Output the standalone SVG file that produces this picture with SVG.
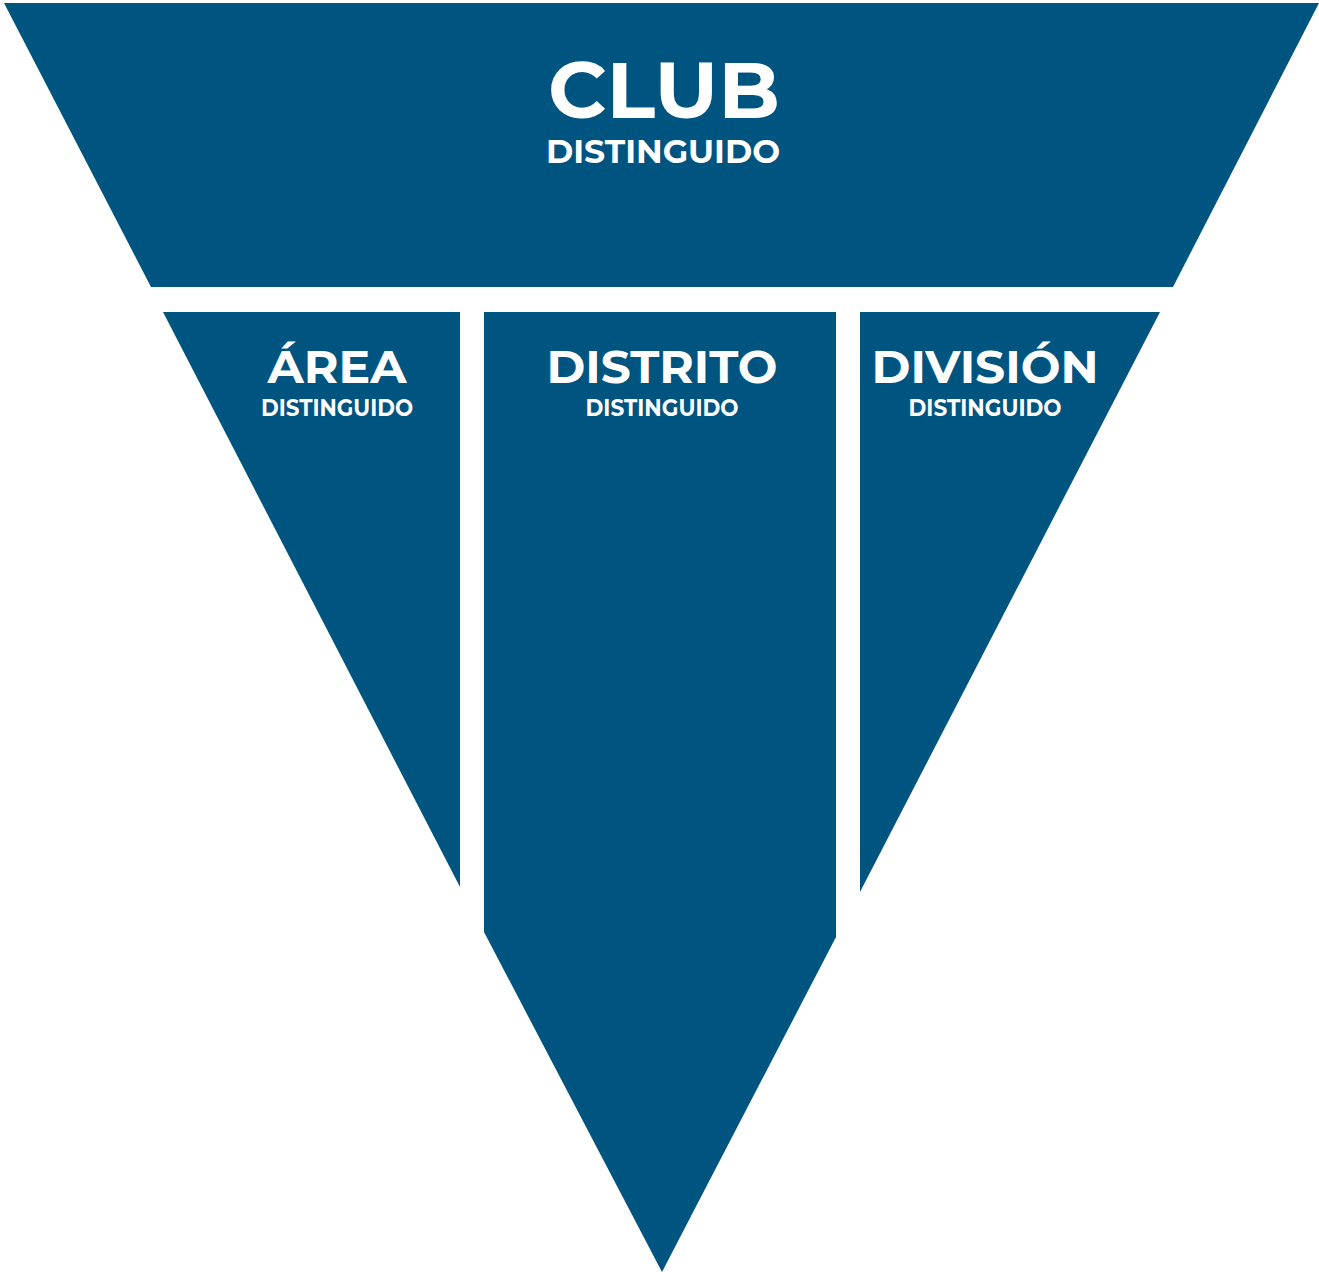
<svg xmlns="http://www.w3.org/2000/svg" width="1319" height="1272" viewBox="0 0 1319 1272">
<style>
.seg{fill:#005480}
.t{font-family:"Montserrat","Liberation Sans",Arial,sans-serif;font-weight:bold;fill:#fff;text-anchor:middle}
.big{font-size:46px}
.sm{font-size:23px}
</style>
<rect width="1319" height="1272" fill="#fff"/>
<g id="club">
<polygon class="seg" points="4,3 1319,3 1173,287 151,287"/>
<text class="t" x="664" y="118" font-size="78" textLength="232" lengthAdjust="spacingAndGlyphs">CLUB</text>
<text class="t" x="663" y="163" font-size="32" textLength="234" lengthAdjust="spacingAndGlyphs">DISTINGUIDO</text>
</g>
<g id="area">
<polygon class="seg" points="163,312 460,312 460,887"/>
<text class="t big" x="337" y="383" textLength="139" lengthAdjust="spacingAndGlyphs">ÁREA</text>
<text class="t sm" x="337" y="416" textLength="152" lengthAdjust="spacingAndGlyphs">DISTINGUIDO</text>
</g>
<g id="distrito">
<polygon class="seg" points="484,312 836,312 836,937 662,1272 484,932"/>
<text class="t big" x="662" y="383" textLength="231" lengthAdjust="spacingAndGlyphs">DISTRITO</text>
<text class="t sm" x="662" y="416" textLength="153" lengthAdjust="spacingAndGlyphs">DISTINGUIDO</text>
</g>
<g id="division">
<polygon class="seg" points="860,312 1160,312 860,892"/>
<text class="t big" x="985" y="383" textLength="227" lengthAdjust="spacingAndGlyphs">DIVISIÓN</text>
<text class="t sm" x="985" y="416" textLength="153" lengthAdjust="spacingAndGlyphs">DISTINGUIDO</text>
</g>
<g id="connectors"/>
</svg>
